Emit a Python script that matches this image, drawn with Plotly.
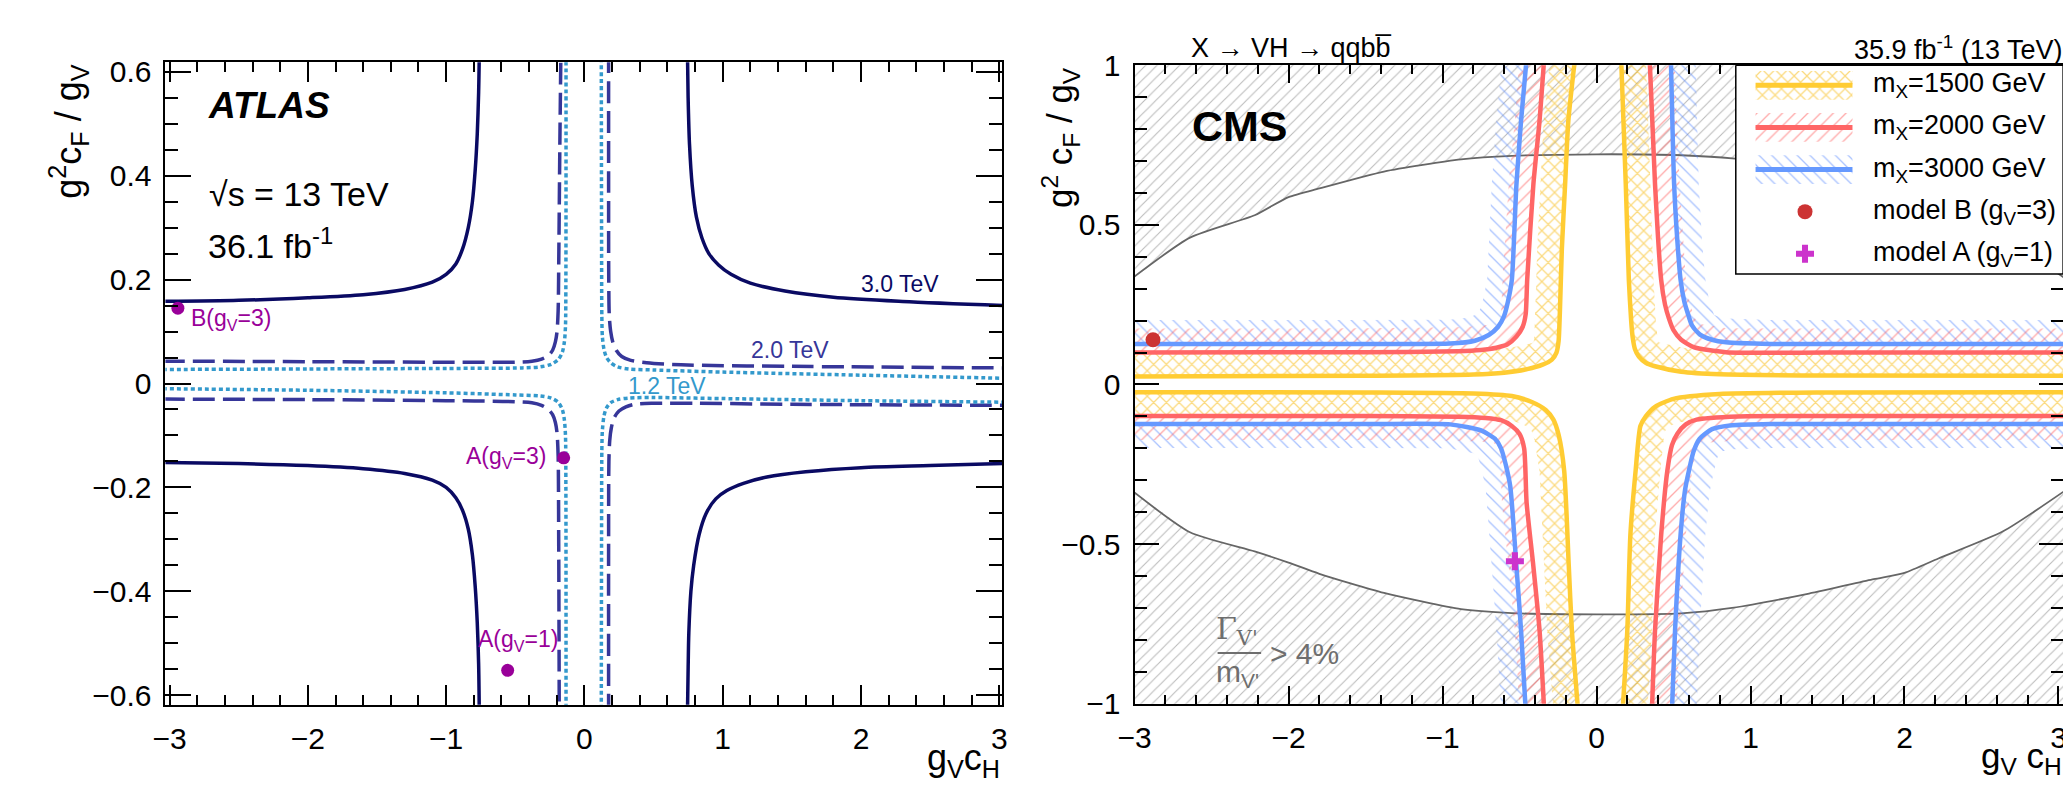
import numpy as np
import plotly.graph_objects as go

W, H = 2071, 796

# ---------------- ATLAS panel data (g_V c_H , g^2 c_F / g_V) ----------------
a30_ul_x = [-3.05, -2.5, -2.0, -1.6, -1.3, -1.1, -1.0, -0.93, -0.88, -0.84, -0.81, -0.79, -0.775, -0.765, -0.76]
a30_ul_y = [0.158, 0.160, 0.165, 0.171, 0.181, 0.195, 0.21, 0.23, 0.26, 0.30, 0.35, 0.41, 0.48, 0.56, 0.64]
a30_ur_x = [0.745, 0.75, 0.76, 0.78, 0.81, 0.85, 0.90, 0.97, 1.06, 1.2, 1.45, 1.8, 2.3, 3.05]
a30_ur_y = [0.64, 0.55, 0.46, 0.38, 0.32, 0.28, 0.25, 0.228, 0.21, 0.193, 0.178, 0.166, 0.158, 0.150]
a30_ll_x = [-3.05, -2.5, -2.0, -1.6, -1.3, -1.1, -1.0, -0.93, -0.88, -0.84, -0.81, -0.79, -0.775, -0.765, -0.76]
a30_ll_y = [-0.152, -0.154, -0.158, -0.164, -0.173, -0.186, -0.20, -0.22, -0.245, -0.28, -0.33, -0.39, -0.46, -0.54, -0.64]
a30_lr_x = [0.745, 0.75, 0.755, 0.77, 0.79, 0.83, 0.88, 0.95, 1.03, 1.15, 1.32, 1.6, 2.0, 2.5, 3.05]
a30_lr_y = [-0.64, -0.55, -0.48, -0.40, -0.35, -0.29, -0.25, -0.222, -0.206, -0.192, -0.180, -0.170, -0.162, -0.158, -0.154]

a20_ul_x = [-3.05, -2.0, -1.0, -0.5, -0.38, -0.31, -0.26, -0.23, -0.21, -0.198, -0.19, -0.185, -0.178, -0.17]
a20_ul_y = [0.043, 0.042, 0.041, 0.041, 0.043, 0.047, 0.054, 0.064, 0.08, 0.10, 0.14, 0.25, 0.45, 0.64]
a20_ur_x = [0.175, 0.175, 0.176, 0.18, 0.19, 0.205, 0.23, 0.27, 0.33, 0.45, 0.7, 1.5, 3.05]
a20_ur_y = [0.64, 0.40, 0.20, 0.13, 0.10, 0.08, 0.064, 0.052, 0.045, 0.040, 0.036, 0.033, 0.030]
a20_ll_x = [-3.05, -2.0, -1.0, -0.5, -0.38, -0.31, -0.26, -0.23, -0.21, -0.198, -0.19, -0.186, -0.182]
a20_ll_y = [-0.030, -0.031, -0.033, -0.035, -0.037, -0.042, -0.050, -0.060, -0.075, -0.095, -0.14, -0.30, -0.64]
a20_lr_x = [0.175, 0.175, 0.177, 0.183, 0.195, 0.215, 0.25, 0.30, 0.36, 0.5, 0.8, 1.5, 3.05]
a20_lr_y = [-0.64, -0.30, -0.15, -0.11, -0.085, -0.066, -0.053, -0.045, -0.040, -0.038, -0.038, -0.040, -0.042]

a12_ul_x = [-3.05, -2.0, -1.0, -0.45, -0.32, -0.24, -0.19, -0.16, -0.145, -0.137, -0.134, -0.133]
a12_ul_y = [0.027, 0.028, 0.029, 0.030, 0.032, 0.037, 0.046, 0.060, 0.08, 0.11, 0.2, 0.64]
a12_ur_x = [0.122, 0.124, 0.126, 0.13, 0.142, 0.16, 0.19, 0.24, 0.32, 0.5, 1.0, 2.0, 3.05]
a12_ur_y = [0.64, 0.3, 0.13, 0.09, 0.065, 0.050, 0.040, 0.032, 0.028, 0.026, 0.022, 0.016, 0.010]
a12_ll_x = [-3.05, -2.0, -1.0, -0.5, -0.32, -0.24, -0.19, -0.16, -0.145, -0.137, -0.134, -0.133]
a12_ll_y = [-0.010, -0.013, -0.018, -0.022, -0.024, -0.028, -0.036, -0.05, -0.07, -0.10, -0.2, -0.64]
a12_lr_x = [0.122, 0.124, 0.126, 0.13, 0.142, 0.16, 0.19, 0.24, 0.32, 0.5, 1.0, 2.0, 3.05]
a12_lr_y = [-0.64, -0.3, -0.13, -0.09, -0.062, -0.047, -0.037, -0.031, -0.028, -0.027, -0.029, -0.033, -0.036]

atlas_pts_x = [-2.94, -0.15, -0.555]
atlas_pts_y = [0.145, -0.143, -0.552]
atlas_pt_labels = ["B(g<sub>V</sub>=3)", "A(g<sub>V</sub>=3)", "A(g<sub>V</sub>=1)"]
atlas_mass_labels = ["3.0 TeV", "2.0 TeV", "1.2 TeV"]

atlas_xticks = [-3, -2, -1, 0, 1, 2, 3]
atlas_yticks = [-0.6, -0.4, -0.2, 0, 0.2, 0.4, 0.6]
atlas_yticktext = ["\u22120.6", "\u22120.4", "\u22120.2", "0", "0.2", "0.4", "0.6"]

# ---------------- CMS panel data ----------------
c15_ul_x = [-3.05, -1.5, -0.8, -0.6, -0.45, -0.35, -0.29, -0.26, -0.246, -0.238, -0.225, -0.204, -0.183, -0.14]
c15_ul_y = [0.025, 0.027, 0.031, 0.037, 0.048, 0.062, 0.078, 0.10, 0.137, 0.226, 0.426, 0.626, 0.826, 1.02]
c15_ur_x = [0.16, 0.19, 0.21, 0.225, 0.235, 0.25, 0.275, 0.32, 0.38, 0.55, 0.8, 1.5, 3.05]
c15_ur_y = [1.02, 0.627, 0.327, 0.2, 0.147, 0.11, 0.087, 0.068, 0.057, 0.040, 0.032, 0.028, 0.027]
c15_ll_x = [-3.05, -1.5, -0.8, -0.55, -0.42, -0.33, -0.28, -0.245, -0.21, -0.18, -0.16, -0.12]
c15_ll_y = [-0.024, -0.025, -0.028, -0.036, -0.055, -0.08, -0.11, -0.16, -0.27, -0.57, -0.77, -1.02]
c15_lr_x = [0.17, 0.20, 0.22, 0.254, 0.285, 0.32, 0.38, 0.5, 0.8, 1.5, 3.05]
c15_lr_y = [-1.02, -0.77, -0.47, -0.27, -0.13, -0.10, -0.07, -0.045, -0.03, -0.025, -0.024]

c20_ul_x = [-3.05, -1.5, -0.9, -0.75, -0.65, -0.58, -0.52, -0.48, -0.46, -0.45, -0.41, -0.37, -0.34]
c20_ul_y = [0.10, 0.101, 0.104, 0.108, 0.115, 0.125, 0.15, 0.18, 0.22, 0.33, 0.627, 0.826, 1.02]
c20_ur_x = [0.345, 0.38, 0.42, 0.445, 0.47, 0.50, 0.55, 0.63, 0.84, 1.5, 3.05]
c20_ur_y = [1.02, 0.627, 0.327, 0.25, 0.207, 0.17, 0.14, 0.117, 0.101, 0.10, 0.10]
c20_ll_x = [-3.05, -1.5, -0.9, -0.72, -0.62, -0.55, -0.5, -0.47, -0.454, -0.41, -0.37, -0.34]
c20_ll_y = [-0.099, -0.099, -0.101, -0.105, -0.112, -0.13, -0.155, -0.2, -0.37, -0.57, -0.77, -1.02]
c20_lr_x = [0.36, 0.38, 0.42, 0.46, 0.49, 0.525, 0.58, 0.65, 0.92, 1.5, 3.05]
c20_lr_y = [-1.02, -0.77, -0.47, -0.27, -0.19, -0.154, -0.125, -0.11, -0.100, -0.099, -0.099]

c30_ul_x = [-3.05, -1.5, -0.95, -0.79, -0.70, -0.64, -0.6, -0.575, -0.55, -0.52, -0.49, -0.454]
c30_ul_y = [0.127, 0.127, 0.128, 0.137, 0.155, 0.18, 0.215, 0.26, 0.327, 0.627, 0.826, 1.02]
c30_ur_x = [0.483, 0.504, 0.525, 0.546, 0.57, 0.59, 0.62, 0.67, 0.75, 0.84, 1.13, 3.05]
c30_ur_y = [1.02, 0.627, 0.45, 0.327, 0.26, 0.227, 0.185, 0.157, 0.14, 0.132, 0.127, 0.127]
c30_ll_x = [-3.05, -1.5, -0.95, -0.75, -0.66, -0.62, -0.59, -0.56, -0.52, -0.49, -0.46]
c30_ll_y = [-0.124, -0.124, -0.125, -0.144, -0.17, -0.2, -0.25, -0.32, -0.57, -0.77, -1.02]
c30_lr_x = [0.49, 0.51, 0.546, 0.575, 0.6, 0.63, 0.67, 0.75, 0.88, 1.13, 3.05]
c30_lr_y = [-1.02, -0.77, -0.47, -0.33, -0.27, -0.21, -0.17, -0.14, -0.128, -0.124, -0.124]

width_x = [-3.05, -2.64, -2.22, -2.0, -1.8, -1.38, -0.88, -0.55, 0.0, 0.55, 0.88, 1.38, 1.8, 2.0, 2.22, 2.64, 3.05]
width_up = [0.32, 0.46, 0.53, 0.587, 0.614, 0.667, 0.705, 0.716, 0.721, 0.718, 0.708, 0.67, 0.61, 0.585, 0.53, 0.46, 0.33]
width_lo = [-0.32, -0.463, -0.523, -0.558, -0.593, -0.653, -0.704, -0.716, -0.72, -0.717, -0.70, -0.655, -0.61, -0.59, -0.545, -0.46, -0.33]

cms_B = (-2.88, 0.14)
cms_A = (-0.53, -0.554)
cms_masses = ["1500", "2000", "3000"]

# ---------------- styles ----------------
FONT = "Liberation Sans, Arial, Helvetica, sans-serif"
NAVY, DASHC, DOTC, PURP = "#0a0a63", "#363699", "#3399cc", "#990099"
YEL, RED, BLU = "#FFCC33", "#FF6666", "#6699FF"
YEL_H, RED_H, BLU_H = "#F7B500", "#FF5555", "#5588FF"
CLEAR = "rgba(0,0,0,0)"


def px(x):
    return x / W


def py(y):
    return 1 - y / H


fig = go.Figure()

# ---- ATLAS curves ----
atlas_sets = [
    ([(a30_ul_x, a30_ul_y), (a30_ur_x, a30_ur_y), (a30_ll_x, a30_ll_y), (a30_lr_x, a30_lr_y)], NAVY, "solid"),
    ([(a20_ul_x, a20_ul_y), (a20_ur_x, a20_ur_y), (a20_ll_x, a20_ll_y), (a20_lr_x, a20_lr_y)], DASHC, "22px,8px"),
    ([(a12_ul_x, a12_ul_y), (a12_ur_x, a12_ur_y), (a12_ll_x, a12_ll_y), (a12_lr_x, a12_lr_y)], DOTC, "4px,3px"),
]
for branches, col, dash in atlas_sets:
    for bx, by in branches:
        fig.add_trace(go.Scatter(x=bx, y=by, mode="lines", xaxis="x", yaxis="y",
                                 line=dict(color=col, width=3.5, dash=dash, shape="spline", smoothing=0.8),
                                 hoverinfo="skip", showlegend=False))
fig.add_trace(go.Scatter(x=atlas_pts_x, y=atlas_pts_y, mode="markers", xaxis="x", yaxis="y",
                         marker=dict(color=PURP, size=13), showlegend=False, hoverinfo="skip"))

# ---- CMS ----
SX, SY = 156.3, 333.5
BAND_PX = 25


def band_polygon(xs, ys):
    X = np.array(xs) * SX
    Y = np.array(ys) * SY
    dx = np.gradient(X)
    dy = np.gradient(Y)
    L = np.hypot(dx, dy)
    nx, ny = -dy / L, dx / L
    s = np.sign(nx * X + ny * Y)
    s[s == 0] = 1
    nx, ny = nx * s, ny * s
    ox = (X + BAND_PX * nx) / SX
    oy = (Y + BAND_PX * ny) / SY
    return list(xs) + list(ox[::-1]) + [xs[0]], list(ys) + list(oy[::-1]) + [ys[0]]


# grey width-excluded regions
gx_up = list(width_x) + [3.05, -3.05, width_x[0]]
gy_up = list(width_up) + [1.05, 1.05, width_up[0]]
gx_lo = list(width_x) + [3.05, -3.05, width_x[0]]
gy_lo = list(width_lo) + [-1.05, -1.05, width_lo[0]]
for gxs, gys in [(gx_up, gy_up), (gx_lo, gy_lo)]:
    fig.add_trace(go.Scatter(x=gxs, y=gys, mode="none", fill="toself", xaxis="x2", yaxis="y2",
                             fillcolor=CLEAR,
                             fillpattern=dict(shape="/", fgcolor="#7a7a7a", bgcolor=CLEAR, size=8, solidity=0.14),
                             hoverinfo="skip", showlegend=False))
for curve in [width_up, width_lo]:
    fig.add_trace(go.Scatter(x=width_x, y=curve, mode="lines", xaxis="x2", yaxis="y2",
                             line=dict(color="#666666", width=1.8, shape="spline", smoothing=0.6),
                             hoverinfo="skip", showlegend=False))

cms_sets = [
    ([(c30_ul_x, c30_ul_y), (c30_ur_x, c30_ur_y), (c30_ll_x, c30_ll_y), (c30_lr_x, c30_lr_y)], BLU, BLU_H, "\\", 0.15),
    ([(c20_ul_x, c20_ul_y), (c20_ur_x, c20_ur_y), (c20_ll_x, c20_ll_y), (c20_lr_x, c20_lr_y)], RED, RED_H, "/", 0.15),
    ([(c15_ul_x, c15_ul_y), (c15_ur_x, c15_ur_y), (c15_ll_x, c15_ll_y), (c15_lr_x, c15_lr_y)], YEL, YEL_H, "x", 0.26),
]
for branches, col, hcol, pat, sol in cms_sets:
    for bx, by in branches:
        pxs, pys = band_polygon(bx, by)
        fig.add_trace(go.Scatter(x=pxs, y=pys, mode="none", fill="toself", xaxis="x2", yaxis="y2",
                                 fillcolor=CLEAR,
                                 fillpattern=dict(shape=pat, fgcolor=hcol, bgcolor=CLEAR, size=9, solidity=sol),
                                 hoverinfo="skip", showlegend=False))
for branches, col, hcol, pat, sol in cms_sets[::-1]:
    for bx, by in branches:
        fig.add_trace(go.Scatter(x=bx, y=by, mode="lines", xaxis="x2", yaxis="y2",
                                 line=dict(color=col, width=4.5, shape="spline", smoothing=0.6),
                                 hoverinfo="skip", showlegend=False))
fig.add_trace(go.Scatter(x=[cms_B[0]], y=[cms_B[1]], mode="markers", xaxis="x2", yaxis="y2",
                         marker=dict(color="#cc3333", size=15), hoverinfo="skip", showlegend=False))
fig.add_trace(go.Scatter(x=[cms_A[0]], y=[cms_A[1]], mode="markers", xaxis="x2", yaxis="y2",
                         marker=dict(color="#cc33cc", size=15, symbol="cross"), hoverinfo="skip", showlegend=False))

# ---- legend (drawn on a pixel overlay axis) ----
LX0, LX1, LY0, LY1 = 1730, 2061, 42, 260
fig.add_trace(go.Scatter(x=[LX0, LX1, LX1, LX0, LX0], y=[LY0, LY0, LY1, LY1, LY0], mode="lines",
                         fill="toself", fillcolor="white", line=dict(color="black", width=1.5),
                         xaxis="x3", yaxis="y3", hoverinfo="skip", showlegend=False))
leg_rows = [(63, YEL, YEL_H, "x", 0.26), (107, RED, RED_H, "/", 0.15), (151, BLU, BLU_H, "\\", 0.15)]
for (yc, col, hcol, pat, sol) in leg_rows:
    fig.add_trace(go.Scatter(x=[1750, 1848, 1848, 1750, 1750], y=[yc - 15, yc - 15, yc + 15, yc + 15, yc - 15],
                             mode="none", fill="toself", fillcolor=CLEAR,
                             fillpattern=dict(shape=pat, fgcolor=hcol, bgcolor=CLEAR, size=9, solidity=sol),
                             xaxis="x3", yaxis="y3", hoverinfo="skip", showlegend=False))
    fig.add_trace(go.Scatter(x=[1750, 1848], y=[yc, yc], mode="lines", line=dict(color=col, width=5),
                             xaxis="x3", yaxis="y3", hoverinfo="skip", showlegend=False))
fig.add_trace(go.Scatter(x=[1800], y=[195], mode="markers", marker=dict(color="#cc3333", size=15),
                         xaxis="x3", yaxis="y3", hoverinfo="skip", showlegend=False))
fig.add_trace(go.Scatter(x=[1800], y=[239], mode="markers", marker=dict(color="#cc33cc", size=15, symbol="cross"),
                         xaxis="x3", yaxis="y3", hoverinfo="skip", showlegend=False))

# ---- annotations ----
ann = []


def T(x, y, text, size=28, color="black", xa="left", ya="middle", angle=0, ref="paper", family=FONT):
    if ref == "paper":
        d = dict(x=px(x), y=py(y), xref="paper", yref="paper")
    else:
        d = dict(x=x, y=y, xref=ref[0], yref=ref[1])
    d.update(text=text, showarrow=False, xanchor=xa, yanchor=ya, textangle=angle,
             font=dict(family=family, size=size, color=color))
    ann.append(d)


# ATLAS texts
T(183, 84, "<b><i>ATLAS</i></b>", size=37)
T(184, 177, "\u221As = 13 TeV", size=34)
T(183, 228, "36.1 fb<sup>-1</sup>", size=34)
T(2.28, 0.191, atlas_mass_labels[0], size=23, color=NAVY, xa="center", ref=("x", "y"))
T(1.49, 0.065, atlas_mass_labels[1], size=23, color=DASHC, xa="center", ref=("x", "y"))
T(0.60, -0.005, atlas_mass_labels[2], size=23, color=DOTC, xa="center", ref=("x", "y"))
T(-2.86, 0.124, atlas_pt_labels[0], size=23, color=PURP, xa="left", ref=("x", "y"))
T(-0.26, -0.143, atlas_pt_labels[1], size=23, color=PURP, xa="right", ref=("x", "y"))
T(-0.48, -0.495, atlas_pt_labels[2], size=23, color=PURP, xa="center", ref=("x", "y"))
T(44, 40, "g<sup>2</sup>c<sub>F</sub> / g<sub>V</sub>", size=36, xa="center", ya="top", angle=-90)
T(988, 768, "g<sub>V</sub>c<sub>H</sub>", size=36, xa="right")

# CMS texts
T(1177, 24, "X \u2192 VH \u2192 qqbb\u0305", size=27)
T(2062, 24, "35.9 fb<sup>-1</sup> (13 TeV)", size=27, xa="right")
T(1178, 105, "<b>CMS</b>", size=43)
T(1047, 42, "g<sup>2</sup> c<sub>F</sub> / g<sub>V</sub>", size=35, xa="center", ya="top", angle=-90)
T(2062, 766, "g<sub>V</sub> c<sub>H</sub>", size=35, xa="right")
leg_text_y = [63, 107, 151, 195, 239]
leg_texts = ["m<sub>X</sub>=%s GeV" % m for m in cms_masses] + ["model B (g<sub>V</sub>=3)",
                                                                  "model A (g<sub>V</sub>=1)"]
for yy, tt in zip(leg_text_y, leg_texts):
    T(1867, yy, tt, size=27)
GREY = "#6e6e6e"
T(1226, 632, "\u0393<sub>V'</sub>", size=30, color=GREY, xa="center", family="DejaVu Serif, serif")
T(1226, 677, "m<sub>V'</sub>", size=30, color=GREY, xa="center")
T(1257, 657, "> 4%", size=30, color=GREY, xa="left")

shapes = [dict(type="line", xref="paper", yref="paper", x0=px(1206), x1=px(1250), y0=py(656), y1=py(656),
               line=dict(color=GREY, width=2))]

tickfont = dict(family=FONT, size=30, color="black")
common = dict(showline=True, linecolor="black", linewidth=2, mirror="ticks", ticks="inside",
              tickcolor="black", tickwidth=2, showgrid=False, zeroline=False, tickfont=tickfont)

fig.update_layout(
    width=W, height=H, autosize=False,
    margin=dict(l=0, r=0, t=0, b=0),
    paper_bgcolor="white", plot_bgcolor="rgba(0,0,0,0)",
    showlegend=False,
    xaxis=dict(domain=[px(142), px(988)], range=[-3.03, 3.02], anchor="y",
               tickvals=atlas_xticks, ticklen=20, ticklabelstandoff=6,
               minor=dict(ticks="inside", ticklen=10, tickwidth=1.5, tickcolor="black", dtick=0.2, tick0=0),
               **common),
    yaxis=dict(domain=[py(710), py(39)], range=[-0.618, 0.618], anchor="x",
               tickvals=atlas_yticks, ticktext=atlas_yticktext, ticklen=26, ticklabelstandoff=6,
               minor=dict(ticks="inside", ticklen=13, tickwidth=1.5, tickcolor="black", dtick=0.05, tick0=0),
               **common),
    xaxis2=dict(domain=[px(1122), px(2061)], range=[-3.0, 3.03], anchor="y2",
                dtick=1, tick0=0, ticklen=18, ticklabelstandoff=6,
                minor=dict(ticks="inside", ticklen=9, tickwidth=1.5, tickcolor="black", dtick=0.2, tick0=0),
                **common),
    yaxis2=dict(domain=[py(709), py(42)], range=[-1, 1], anchor="x2",
                dtick=0.5, tick0=0, ticklen=24, ticklabelstandoff=6,
                minor=dict(ticks="inside", ticklen=12, tickwidth=1.5, tickcolor="black", dtick=0.1, tick0=0),
                **common),
    xaxis3=dict(domain=[0, 1], range=[0, W], visible=False, anchor="y3", fixedrange=True),
    yaxis3=dict(domain=[0, 1], range=[H, 0], visible=False, anchor="x3", fixedrange=True),
    annotations=ann,
    shapes=shapes,
)

fig.write_html("out.html")
